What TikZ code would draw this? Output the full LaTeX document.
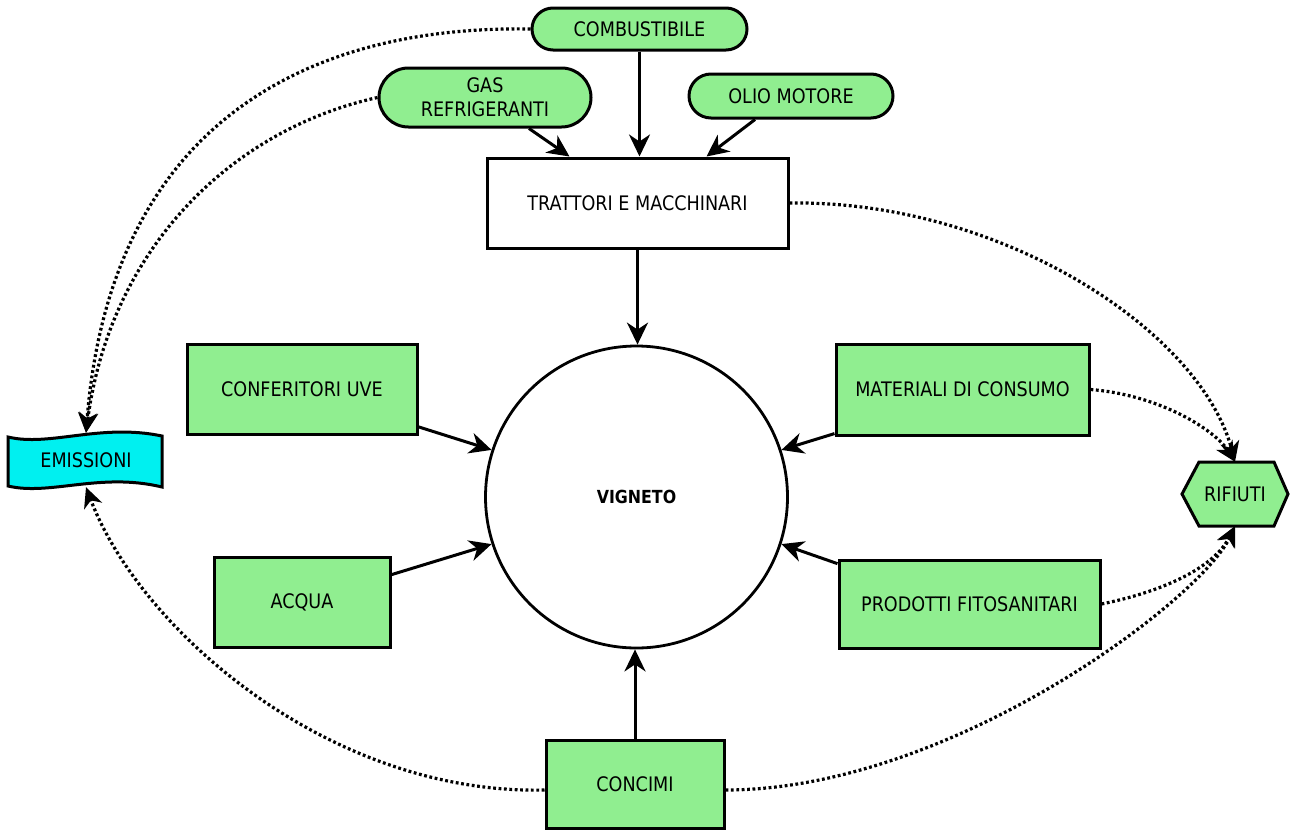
\documentclass[tikz,border=0pt]{standalone}
\usepackage{fontspec}
\setmainfont{DejaVu Sans}[FakeStretch=0.88]
\usetikzlibrary{arrows.meta,shapes.misc,calc}
\definecolor{lg}{RGB}{144,238,144}
\definecolor{cy}{RGB}{0,240,240}
\begin{document}
\begin{tikzpicture}[x=1pt,y=-1pt,
 every node/.style={font=\fontsize{20}{24}\selectfont, text=black},
 box/.style={draw, line width=3pt, fill=lg, rectangle, inner sep=0pt},
 pill/.style={draw, line width=3pt, fill=lg, rounded rectangle, inner sep=0pt, align=center},
 arr/.style={line width=3pt, -{Stealth[length=22pt,width=21pt,inset=7pt]}},
 dotarr/.style={line width=3.2pt, dash pattern=on 2.8pt off 2.6pt, -{Stealth[length=20pt,width=19pt,inset=6pt]}},
]
\useasboundingbox (0,0) rectangle (1298,830);
% nodes
\node[pill, minimum width=215pt, minimum height=42pt] (comb) at (639.5,29) {COMBUSTIBILE};
\node[pill, minimum width=212pt, minimum height=59pt] (gas) at (485,97.5) {GAS\\REFRIGERANTI};
\node[pill, minimum width=204pt, minimum height=44pt] (olio) at (791,96) {OLIO MOTORE};
\node[draw, line width=3pt, fill=white, inner sep=0pt, minimum width=301pt, minimum height=90pt] (trat) at (637.5,203) {TRATTORI E MACCHINARI};
\node[draw, circle, line width=2.8pt, fill=white, minimum size=302pt, inner sep=0pt, font=\fontsize{18}{22}\selectfont\bfseries] (vig) at (636.5,497) {VIGNETO};
\node[box, minimum width=230pt, minimum height=90pt] (conf) at (302,389) {CONFERITORI UVE};
\node[box, minimum width=253pt, minimum height=91pt] (mat) at (962.5,389.5) {MATERIALI DI CONSUMO};
\node[box, minimum width=176pt, minimum height=90pt] (acq) at (302,602) {ACQUA};
\node[box, minimum width=261pt, minimum height=88pt] (prod) at (969.5,604) {PRODOTTI FITOSANITARI};
\node[box, minimum width=178pt, minimum height=88pt] (conc) at (635,784) {CONCIMI};
% emissioni
\draw[line width=3pt, fill=cy] (8,437) .. controls (50,447) and (100,423) .. (162,436) -- (162,487) .. controls (100,472) and (50,496) .. (8,486) -- cycle;
\node[inner sep=0pt, minimum width=154pt, minimum height=54pt] (emi) at (86,460) {EMISSIONI};
% rifiuti
\draw[line width=3pt, fill=lg] (1182,494) -- (1199,462) -- (1274,462) -- (1288,494) -- (1274,526) -- (1199,526) -- cycle;
\node[inner sep=0pt, minimum width=106pt, minimum height=64pt] (rif) at (1235,494) {RIFIUTI};
% solid arrows
\draw[arr] ($(gas.south)+(44,0)$) -- ($(trat.north)+(-68,0)$);
\draw[arr] (comb.south) -- (comb.south |- trat.north);
\draw[arr] ($(olio.south)+(-36,0)$) -- ($(trat.north)+(69,0)$);
\draw[arr] (trat.south) -- (trat.south |- vig.north);
\draw[arr] (conf.-18) -- (vig.162);
\draw[arr] (mat.199) -- (vig.18);
\draw[arr] (acq.17) -- (vig.198);
\draw[arr] (prod.163) -- (vig.342);
\draw[arr] (conc.north) -- (conc.north |- vig.south);
% dotted arrows
\draw[dotarr] (comb.west) .. controls (300,25) and (110,130) .. (emi.north);
\draw[dotarr] (gas.west) .. controls (230,130) and (110,250) .. (emi.north);
\draw[dotarr] ($(conc.west)+(0,6)$) .. controls (330,795) and (140,630) .. (emi.south);
\draw[dotarr] ($(conc.east)+(0,6)$) .. controls (950,790) and (1200,600) .. (rif.south);
\draw[dotarr] (prod.east) .. controls (1170,590) and (1215,565) .. (rif.south);
\draw[dotarr] (trat.east) .. controls (1000,200) and (1200,330) .. (rif.north);
\draw[dotarr] (mat.east) .. controls (1160,395) and (1215,430) .. (rif.north);
\end{tikzpicture}
\end{document}
